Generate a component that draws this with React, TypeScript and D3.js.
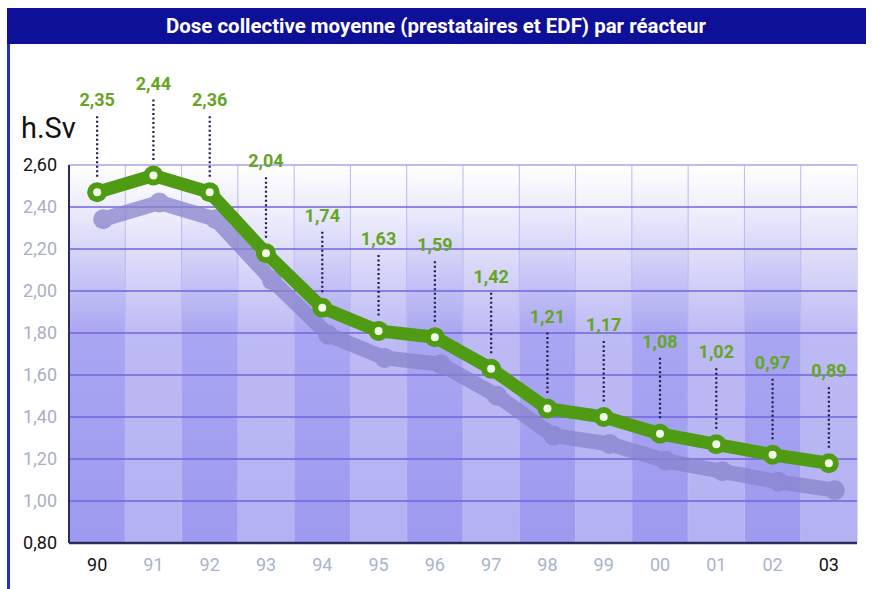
import React from "react";
import * as d3 from "d3";

const years = ["90", "91", "92", "93", "94", "95", "96", "97", "98", "99", "00", "01", "02", "03"];
// values printed above each point (h.Sv)
const doseLabels = [2.35, 2.44, 2.36, 2.04, 1.74, 1.63, 1.59, 1.42, 1.21, 1.17, 1.08, 1.02, 0.97, 0.89];
// where the green line actually sits on the scale in the picture
const linePositions = [2.47, 2.55, 2.47, 2.18, 1.92, 1.81, 1.78, 1.63, 1.44, 1.4, 1.32, 1.27, 1.22, 1.18];
const yTicks = [0.8, 1.0, 1.2, 1.4, 1.6, 1.8, 2.0, 2.2, 2.4, 2.6];
const darkYears = ["90", "03"];
const darkTicks = [0.8, 2.6];

const W = 872;
const H = 589;
const plot = { left: 69, right: 857, top: 165, bottom: 543 };
const font = "Roboto, 'Open Sans', sans-serif";
const green = "#4f9b14";
const labelGreen = "#65a524";

const fmt = (v: number) => v.toFixed(2).replace(".", ",");

export default function App() {
  const x = d3.scaleBand<string>().domain(years).range([plot.left, plot.right]);
  const y = d3.scaleLinear().domain([0.8, 2.6]).range([plot.bottom, plot.top]);
  const cx = (d: string) => (x(d) as number) + x.bandwidth() / 2;

  const pts: [number, number][] = years.map((d, i) => [cx(d), y(linePositions[i])]);
  const line = d3.line().curve(d3.curveLinear)(pts) as string;

  return (
    <div style={{ position: "absolute", left: 0, top: 0 }}>
      <svg width={W} height={H} style={{ display: "block", background: "#fff" }}>
        <defs>
          <linearGradient id="fade" x1="0" y1="0" x2="0" y2="1">
            <stop offset="0" stopColor="#fff" stopOpacity={1} />
            <stop offset="0.12" stopColor="#fff" stopOpacity={0.8} />
            <stop offset="0.45" stopColor="#fff" stopOpacity={0.12} />
            <stop offset="1" stopColor="#fff" stopOpacity={0} />
          </linearGradient>
        </defs>

        {/* frame and title bar */}
        <rect x={7} y={8} width={3} height={H - 8} fill="#2233b0" />
        <rect x={7} y={8} width={859} height={36} fill="#0e1097" />
        <text x={436} y={33} textAnchor="middle" fill="#fff" fontFamily={font} fontWeight="bold" fontSize={20}
          textLength={540} lengthAdjust="spacingAndGlyphs">
          Dose collective moyenne (prestataires et EDF) par réacteur
        </text>

        {/* banded background */}
        {years.map((d, i) => (
          <rect key={d} x={x(d)} y={plot.top} width={x.bandwidth() + 0.5} height={plot.bottom - plot.top}
            fill={i % 2 === 0 ? "#9d9af0" : "#b4b1f3"} />
        ))}
        <rect x={plot.left} y={plot.top} width={plot.right - plot.left} height={plot.bottom - plot.top} fill="url(#fade)" />
        {years.slice(1).map((d) => (
          <line key={d} x1={x(d)} x2={x(d)} y1={plot.top} y2={plot.bottom} stroke="#bcb8f2" strokeWidth={1} />
        ))}

        {/* horizontal grid */}
        {yTicks.slice(1).map((t) => (
          <line key={t} x1={plot.left} x2={plot.right} y1={y(t)} y2={y(t)}
            stroke={t === 2.6 ? "#a9a4ea" : "#7065dc"} strokeWidth={1.6} />
        ))}
        <line x1={plot.left} x2={plot.left} y1={plot.top} y2={plot.bottom} stroke="#2c2c5c" strokeWidth={2} />
        <line x1={plot.left} x2={plot.right} y1={plot.bottom} y2={plot.bottom} stroke="#2c2c5c" strokeWidth={2.5} />

        {/* y axis labels */}
        <text x={21} y={138} fontFamily={font} fontSize={29} fill="#111">h.Sv</text>
        {yTicks.map((t) => (
          <text key={t} x={57} y={y(t) + 6} textAnchor="end" fontFamily={font} fontSize={18}
            fill={darkTicks.includes(t) ? "#111" : "#a9aec6"}>{fmt(t)}</text>
        ))}

        {/* x axis labels */}
        {years.map((d) => (
          <text key={d} x={cx(d)} y={571} textAnchor="middle" fontFamily={font} fontSize={18}
            fill={darkYears.includes(d) ? "#111" : "#a8b3cc"}>{d}</text>
        ))}

        {/* shadow of the line */}
        <g transform="translate(6,27)" opacity={0.75}>
          <path d={line} fill="none" stroke="#8884cc" strokeWidth={15} strokeLinejoin="round" strokeLinecap="round" />
          {pts.map((p, i) => <circle key={i} cx={p[0]} cy={p[1]} r={10} fill="#8884cc" />)}
        </g>

        {/* leaders and value labels */}
        {pts.map((p, i) => (
          <g key={i}>
            <line x1={p[0]} x2={p[0]} y1={p[1] - 76} y2={p[1] - 15} stroke="#1c1c4a" strokeWidth={2.2} strokeDasharray="2 2.5" />
            <text x={p[0]} y={p[1] - 86} textAnchor="middle" fontFamily={font} fontWeight="bold" fontSize={18}
              fill={labelGreen}>{fmt(doseLabels[i])}</text>
          </g>
        ))}

        {/* main line */}
        <path d={line} fill="none" stroke={green} strokeWidth={13} strokeLinejoin="round" strokeLinecap="round" />
        {pts.map((p, i) => (
          <g key={i}>
            <circle cx={p[0]} cy={p[1]} r={10} fill={green} />
            <circle cx={p[0]} cy={p[1]} r={4} fill="#f2fbe6" />
          </g>
        ))}
      </svg>
    </div>
  );
}
